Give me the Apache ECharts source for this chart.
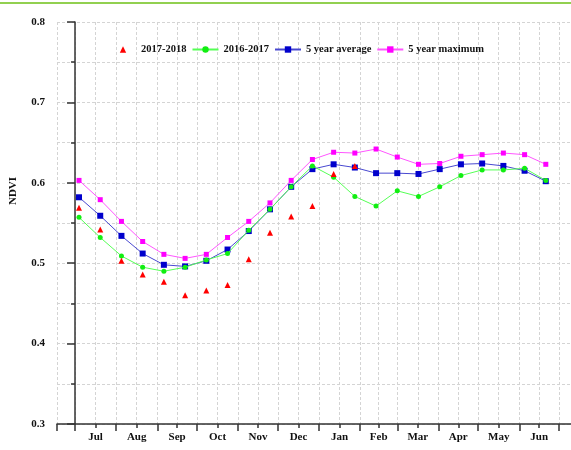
<!DOCTYPE html>
<html>
<head>
<meta charset="utf-8">
<script src="https://cdn.jsdelivr.net/npm/echarts@6/dist/echarts.min.js"></script>
<style>
  html, body { margin: 0; padding: 0; background: #fff; }
  #topbar { position: absolute; left: 0; top: 2px; width: 571px; height: 2px; background: #92d050; }
  #ndvi-chart { width: 571px; height: 450px; }
</style>
</head>
<body>
<div id="topbar"></div>
<div id="ndvi-chart"></div>
<script>
// days since 1 July
const months = ["Jul", "Aug", "Sep", "Oct", "Nov", "Dec", "Jan", "Feb", "Mar", "Apr", "May", "Jun"];
const monthStarts = [0, 31, 62, 92, 123, 153, 184, 215, 243, 274, 304, 335, 365];
const compositeDays = [3, 19, 35, 51, 67, 83, 99, 115, 131, 147, 163, 179, 195, 211, 227, 243, 259, 275, 291, 307, 323, 339, 355];

const ndvi1718 = [0.569, 0.542, 0.503, 0.486, 0.477, 0.460, 0.466, 0.473, 0.505, 0.538, 0.558, 0.571, 0.611, 0.621];
const ndvi1617 = [0.557, 0.532, 0.509, 0.495, 0.490, 0.495, 0.504, 0.512, 0.541, 0.567, 0.595, 0.621, 0.607, 0.583, 0.571, 0.590, 0.583, 0.595, 0.609, 0.616, 0.616, 0.618, 0.603];
const ndviAvg = [0.582, 0.559, 0.534, 0.512, 0.498, 0.496, 0.503, 0.517, 0.540, 0.567, 0.595, 0.617, 0.623, 0.619, 0.612, 0.612, 0.611, 0.617, 0.623, 0.624, 0.621, 0.615, 0.602];
const ndviMax = [0.603, 0.579, 0.552, 0.527, 0.511, 0.506, 0.511, 0.532, 0.552, 0.575, 0.603, 0.629, 0.638, 0.637, 0.642, 0.632, 0.623, 0.624, 0.633, 0.635, 0.637, 0.635, 0.623];

const X_MIN = -13.6, X_MAX = 374;
const font = { fontFamily: "Liberation Serif", fontWeight: "bold", fontSize: 11, color: "#111" };
const gridDash = { show: true, lineStyle: { color: "#d4d4d4", type: [3, 2], width: 1 } };

// label positions: middle of each month
const monthMids = months.map((m, i) => (monthStarts[i] + monthStarts[i + 1]) / 2);
const pairs = vals => vals.map((v, i) => [compositeDays[i], v]);

const myChart = echarts.init(document.getElementById("ndvi-chart"));
myChart.setOption({
  animation: false,
  grid: { left: 57, right: 0, top: 22, bottom: 26 },
  legend: {
    left: 105,
    top: 39,
    itemWidth: 26,
    itemHeight: 8,
    itemGap: 5,
    textStyle: Object.assign({}, font, { fontSize: 10.5 }),
    data: ["2017-2018", "2016-2017", "5 year average", "5 year maximum"]
  },
  xAxis: [
    {
      type: "value",
      position: "bottom",
      min: X_MIN,
      max: X_MAX,
      axisLine: { show: true, onZero: false, lineStyle: { color: "#333", width: 1.5 } },
      axisTick: { show: true, length: 7, customValues: [X_MIN].concat(monthStarts), lineStyle: { color: "#333", width: 1.5 } },
      axisLabel: { show: false },
      splitLine: gridDash
    },
    {
      type: "value",
      position: "bottom",
      min: X_MIN,
      max: X_MAX,
      axisLine: { show: false, onZero: false },
      axisTick: { show: true, length: 4, customValues: monthMids, lineStyle: { color: "#333", width: 1.5 } },
      axisLabel: Object.assign({
        customValues: monthMids,
        margin: 8,
        formatter: v => months[monthMids.indexOf(v)] || ""
      }, font),
      splitLine: gridDash
    }
  ],
  yAxis: [
    {
      type: "value",
      min: 0.3,
      max: 0.8,
      interval: 0.1,
      name: "NDVI",
      nameLocation: "middle",
      nameGap: 38,
      nameTextStyle: Object.assign({ padding: [0, 0, 0, 64] }, font),
      axisLine: { show: true, lineStyle: { color: "#333", width: 1.5 } },
      axisTick: { show: true, length: 8, lineStyle: { color: "#333", width: 1.5 } },
      minorTick: { show: true, splitNumber: 2, length: 4, lineStyle: { color: "#333", width: 1.5 } },
      axisLabel: Object.assign({ margin: 12, formatter: v => v.toFixed(1) }, font),
      splitLine: gridDash
    },
    {
      // grid lines every 0.05
      type: "value",
      position: "left",
      min: 0.3,
      max: 0.8,
      interval: 0.05,
      axisLine: { show: false },
      axisTick: { show: false },
      axisLabel: { show: false },
      splitLine: gridDash
    }
  ],
  series: [
    {
      name: "2017-2018",
      type: "line",
      symbol: "triangle",
      symbolSize: 6,
      itemStyle: { color: "#ff0000" },
      lineStyle: { width: 0, opacity: 0 },
      z: 5,
      data: pairs(ndvi1718)
    },
    {
      name: "2016-2017",
      type: "line",
      symbol: "circle",
      symbolSize: 5,
      itemStyle: { color: "#11ee11" },
      lineStyle: { color: "#55ff55", width: 1 },
      z: 4,
      data: pairs(ndvi1617)
    },
    {
      name: "5 year average",
      type: "line",
      symbol: "rect",
      symbolSize: 6,
      itemStyle: { color: "#0000cc" },
      lineStyle: { color: "#4848d0", width: 1 },
      z: 3,
      data: pairs(ndviAvg)
    },
    {
      name: "5 year maximum",
      type: "line",
      symbol: "rect",
      symbolSize: 5,
      itemStyle: { color: "#ff00ff" },
      lineStyle: { color: "#ff55ff", width: 1 },
      z: 2,
      data: pairs(ndviMax)
    }
  ]
});
</script>
</body>
</html>
